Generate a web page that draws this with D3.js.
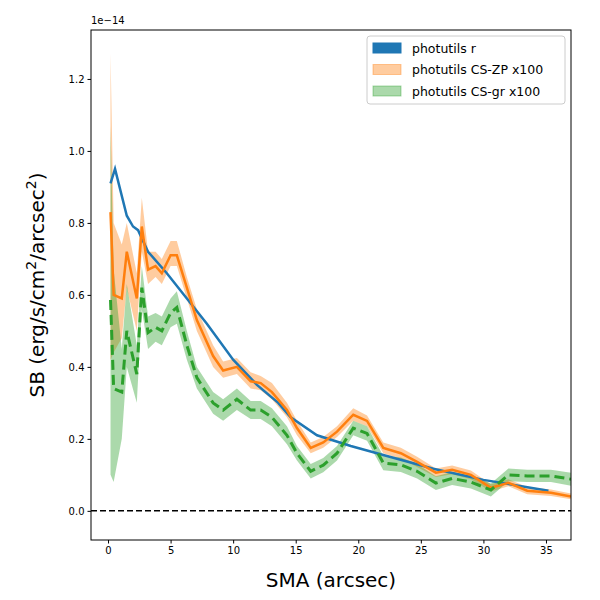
<!DOCTYPE html>
<html><head><meta charset="utf-8">
<script src="https://cdn.jsdelivr.net/npm/d3@7"></script>
<style>body{margin:0;background:#fff}text{font-family:"DejaVu Sans",sans-serif}</style>
</head><body><svg id="c" width="600" height="600"></svg>
<script>
// values in units of 1e-14
const rSma = [0.2, 0.56, 1.5, 2.0, 2.4, 3.2, 4.7, 6.3, 7.9, 10, 11.9, 13.6, 14.6, 16.7, 19.4, 22, 26, 30, 35.2];
const rSb  = [0.91, 0.95, 0.82, 0.79, 0.78, 0.72, 0.66, 0.59, 0.52, 0.42, 0.35, 0.30, 0.26, 0.21, 0.18, 0.155, 0.117, 0.086, 0.056];

const csSma = [0.2, 0.45, 1.1, 1.5, 2.3, 2.7, 3.2, 3.8, 4.3, 5.0, 5.5, 6.3, 7.1, 8.4, 9.2, 10.3, 11.4, 12.2, 13.1, 14.3, 15.1, 16.2, 17.2, 18.3, 19.6, 20.7, 22, 23.4, 24.7, 26.2, 27.5, 29, 30.6, 32, 33.5, 35.4, 37];
const zpSb = [0.83, 0.60, 0.59, 0.72, 0.59, 0.79, 0.67, 0.68, 0.66, 0.71, 0.71, 0.62, 0.53, 0.43, 0.39, 0.40, 0.36, 0.355, 0.33, 0.28, 0.23, 0.175, 0.19, 0.22, 0.267, 0.25, 0.175, 0.16, 0.136, 0.106, 0.114, 0.10, 0.064, 0.078, 0.056, 0.05, 0.04];
const zpLo = [0.42, 0.44, 0.48, 0.62, 0.50, 0.72, 0.63, 0.65, 0.63, 0.68, 0.68, 0.59, 0.50, 0.40, 0.37, 0.38, 0.34, 0.335, 0.31, 0.26, 0.21, 0.16, 0.175, 0.205, 0.25, 0.235, 0.16, 0.145, 0.122, 0.094, 0.102, 0.088, 0.054, 0.068, 0.046, 0.041, 0.032];
const zpHi = [1.27, 0.80, 0.74, 0.80, 0.66, 0.87, 0.72, 0.72, 0.70, 0.75, 0.75, 0.65, 0.56, 0.46, 0.415, 0.425, 0.385, 0.375, 0.355, 0.30, 0.25, 0.19, 0.205, 0.235, 0.285, 0.265, 0.19, 0.175, 0.15, 0.118, 0.126, 0.112, 0.074, 0.088, 0.066, 0.059, 0.048];
const grSb = [0.586, 0.34, 0.33, 0.50, 0.38, 0.62, 0.495, 0.51, 0.50, 0.55, 0.565, 0.46, 0.37, 0.30, 0.28, 0.31, 0.28, 0.28, 0.26, 0.21, 0.16, 0.11, 0.127, 0.16, 0.23, 0.215, 0.133, 0.128, 0.11, 0.077, 0.09, 0.08, 0.058, 0.10, 0.097, 0.097, 0.088];
const grLo = [0.10, 0.08, 0.20, 0.40, 0.30, 0.56, 0.45, 0.47, 0.46, 0.51, 0.52, 0.42, 0.34, 0.27, 0.25, 0.28, 0.255, 0.255, 0.235, 0.185, 0.14, 0.09, 0.107, 0.14, 0.21, 0.195, 0.113, 0.108, 0.09, 0.058, 0.072, 0.062, 0.04, 0.082, 0.08, 0.08, 0.07];
const grHi = [1.07, 0.67, 0.45, 0.63, 0.46, 0.68, 0.54, 0.55, 0.54, 0.59, 0.61, 0.50, 0.40, 0.33, 0.31, 0.34, 0.305, 0.305, 0.285, 0.235, 0.18, 0.13, 0.147, 0.18, 0.25, 0.235, 0.153, 0.148, 0.13, 0.096, 0.108, 0.098, 0.076, 0.118, 0.114, 0.114, 0.106];
const xTicks = [0, 5, 10, 15, 20, 25, 30, 35];
const yTicks = [0, 0.2, 0.4, 0.6, 0.8, 1.0, 1.2];

const svg = d3.select("#c");
const L = 91, R = 571, T = 30, B = 540;
const x = d3.scaleLinear().domain([-1.36, 37]).range([L, R]);
const y = d3.scaleLinear().domain([-0.081, 1.336]).range([B, T]);

const clip = svg.append("defs").append("clipPath").attr("id", "cp")
    .append("rect").attr("x", L).attr("y", T).attr("width", R - L).attr("height", B - T);
const g = svg.append("g").attr("clip-path", "url(#cp)");

const area = (lo, hi) => d3.area().x((d, i) => x(csSma[i])).y0((d, i) => y(lo[i])).y1((d, i) => y(hi[i]))(csSma);
const line = (xs, ys) => d3.line().x((d, i) => x(xs[i])).y((d, i) => y(ys[i]))(xs);

g.append("path").attr("d", area(zpLo, zpHi)).attr("fill", "#ff7f0e").attr("opacity", 0.4);
g.append("path").attr("d", area(grLo, grHi)).attr("fill", "#2ca02c").attr("opacity", 0.4);
g.append("path").attr("d", line(rSma, rSb)).attr("fill", "none").attr("stroke", "#1f77b4").attr("stroke-width", 2.5);
g.append("path").attr("d", line(csSma, zpSb)).attr("fill", "none").attr("stroke", "#ff7f0e").attr("stroke-width", 2.5);
g.append("path").attr("d", line(csSma, grSb)).attr("fill", "none").attr("stroke", "#2ca02c").attr("stroke-width", 3).attr("stroke-dasharray", "10,5");
g.append("line").attr("x1", L).attr("x2", R).attr("y1", y(0)).attr("y2", y(0))
    .attr("stroke", "#000").attr("stroke-width", 1.5).attr("stroke-dasharray", "6,3");

svg.append("g").attr("transform", `translate(0,${B})`)
    .call(d3.axisBottom(x).tickValues(xTicks).tickSize(3.5).tickPadding(3).tickFormat(d3.format("d")))
    .call(a => a.selectAll("text").attr("font-size", 10));
svg.append("g").attr("transform", `translate(${L},0)`)
    .call(d3.axisLeft(y).tickValues(yTicks).tickSize(3.5).tickPadding(3).tickFormat(d3.format(".1f")))
    .call(a => a.selectAll("text").attr("font-size", 10));
svg.selectAll(".domain").remove();
svg.append("rect").attr("x", L).attr("y", T).attr("width", R - L).attr("height", B - T)
    .attr("fill", "none").attr("stroke", "#000").attr("stroke-width", 1);

svg.append("text").attr("x", L).attr("y", 24).attr("font-size", 10).text("1e\u221214");
svg.append("text").attr("x", (L + R) / 2).attr("y", 587).attr("text-anchor", "middle").attr("font-size", 20).text("SMA (arcsec)");
const yl = svg.append("text").attr("transform", `translate(44,${(T + B) / 2}) rotate(-90)`)
    .attr("text-anchor", "middle").attr("font-size", 20);
yl.append("tspan").text("SB (erg/s/cm");
yl.append("tspan").attr("font-size", 14).attr("dy", -8).text("2");
yl.append("tspan").attr("dy", 8).text("/arcsec");
yl.append("tspan").attr("font-size", 14).attr("dy", -8).text("2");
yl.append("tspan").attr("dy", 8).text(")");

const legend = [
  ["photutils r", "#1f77b4", 1, "#1f77b4"],
  ["photutils CS-ZP x100", "#ff7f0e", 0.4, "#ff7f0e"],
  ["photutils CS-gr x100", "#2ca02c", 0.4, "#2ca02c"]
];
const lg = svg.append("g");
lg.append("rect").attr("x", 367).attr("y", 36).attr("width", 198).attr("height", 68).attr("rx", 3)
    .attr("fill", "#fff").attr("fill-opacity", 0.8).attr("stroke", "#ccc");
legend.forEach((d, i) => {
  const yy = 48 + i * 21.5;
  lg.append("rect").attr("x", 373).attr("y", yy - 5).attr("width", 28).attr("height", 10)
      .attr("fill", d[1]).attr("fill-opacity", d[2]).attr("stroke", d[3]).attr("stroke-opacity", d[2]);
  lg.append("text").attr("x", 412).attr("y", yy + 4.5).attr("font-size", 12.5).text(d[0]);
});
</script></body></html>
